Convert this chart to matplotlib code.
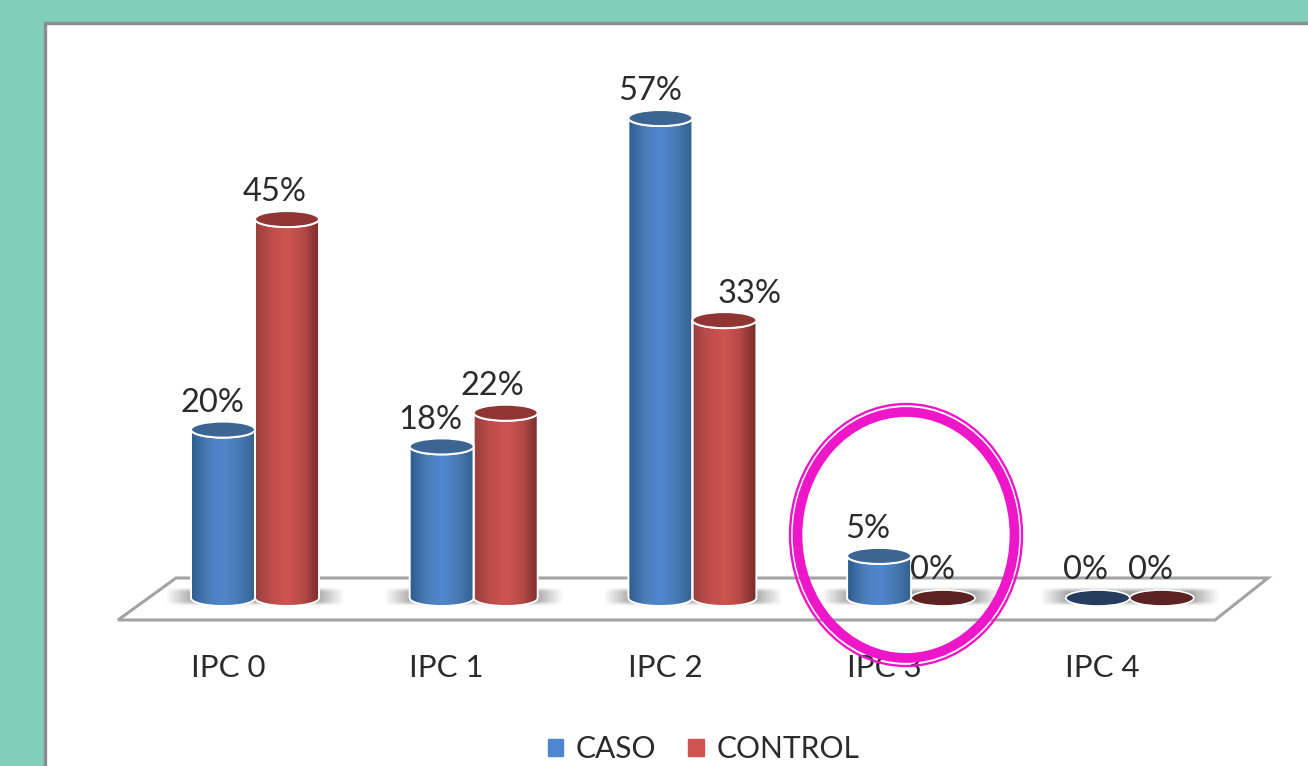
import matplotlib
matplotlib.use('Agg')
import matplotlib.pyplot as plt
import numpy as np
from matplotlib.colors import LinearSegmentedColormap
from matplotlib.patches import Ellipse, Patch, Polygon, Rectangle

plt.rcParams['font.family'] = ['Lato', 'DejaVu Sans']

categories = ['IPC 0', 'IPC 1', 'IPC 2', 'IPC 3', 'IPC 4']
caso = [20, 18, 57, 5, 0]
control = [45, 22, 33, 0, 0]

W, H = 1308, 766
PX_X = 218.7       # px per category
PX_Y = 8.42        # px per percent
X0, Y0 = 255, 598  # px position of first group / of value 0
BAR_W = 64 / PX_X
CAP = 8 / PX_Y     # half height of the ellipses
FS = 22.5

BLUE = LinearSegmentedColormap.from_list('b', ['#2f5b8d', '#4a7cb8', '#5088cf', '#477ab4', '#33608f'])
RED = LinearSegmentedColormap.from_list('r', ['#983f3d', '#bd4d4a', '#cf5451', '#b54a47', '#762c2b'])
TEXT = '#2b2b2b'

fig = plt.figure(figsize=(W / 100, H / 100), dpi=100, facecolor='#80cfb8')

# fondo en pixeles: marco y piso
bg = fig.add_axes([0, 0, 1, 1], zorder=0)
bg.set_xlim(0, W)
bg.set_ylim(H, 0)
bg.axis('off')
bg.add_patch(Rectangle((45, 22.5), W, H, fc='white', ec='#8c8c8c', lw=2.4))
bg.add_patch(Polygon([(176, 578), (1268, 578), (1215, 620), (118, 620)], fc='white', ec='#a3a3a3', lw=2.2))

# ejes de datos
ax = fig.add_axes([0, (H - Y0) / H, 1, Y0 / H], zorder=1)
ax.patch.set_alpha(0)
xlim = (-X0 / PX_X, (W - X0) / PX_X)
ylim = (0, Y0 / PX_Y)
for s in ax.spines.values():
    s.set_visible(False)
ax.set_yticks([])
ax.set_xticks(np.arange(len(categories)) - 27 / PX_X)
ax.set_xticklabels(categories, fontsize=FS, color=TEXT)
ax.tick_params(axis='x', length=0, pad=40)


def shadow(i):
    # sombra difusa sobre el piso
    n = 120
    u = np.linspace(-1, 1, n)
    v = np.linspace(-1, 1, 30)
    a = np.clip((1 - np.abs(u)) * 3.2, 0, 1)[None, :] * np.clip((1 - np.abs(v)) * 2, 0, 1)[:, None]
    img = np.zeros((30, n, 4))
    img[..., :3] = 0.5
    img[..., 3] = a * 0.7
    im = ax.imshow(img, extent=(i - 0.41, i + 0.41, -1.0, 1.2), aspect='auto', zorder=1)
    im.set_clip_on(False)


def cylinder(x, val, cmap, top, flat):
    left, right = x - BAR_W / 2, x + BAR_W / 2
    if val == 0:
        ax.add_patch(Ellipse((x, 0), BAR_W, 2 * CAP, fc=flat, ec='white', lw=1.2, zorder=3, clip_on=False))
        return
    t = np.linspace(np.pi, 2 * np.pi, 60)
    low = np.column_stack([x + BAR_W / 2 * np.cos(t), CAP * np.sin(t)])
    up = np.column_stack([x + BAR_W / 2 * np.cos(t[::-1]), val + CAP * np.sin(t[::-1])])
    body = Polygon(np.vstack([low, up]), fc='none', ec='white', lw=1.4, zorder=3, clip_on=False)
    ax.add_patch(body)
    grad = np.linspace(0, 1, 128)[None, :]
    im = ax.imshow(grad, extent=(left, right, -CAP, val + CAP), cmap=cmap, aspect='auto', zorder=2.5)
    im.set_clip_box(fig.bbox)
    im.set_clip_path(body)
    ax.add_patch(Ellipse((x, val), BAR_W, 2 * CAP, fc=top, ec='white', lw=1.4, zorder=4))


# (dx, dy) de cada etiqueta respecto a la barra, en pixeles
off_caso = [(-11, 27), (-11, 26), (-10, 27), (-11, 27), (-12, 28)]
off_control = [(-12, 27), (-13, 27), (25, 26), (-11, 28), (-11, 28)]

for i in range(len(categories)):
    shadow(i)
    x1 = i - 32 / PX_X
    x2 = i + 32 / PX_X
    cylinder(x1, caso[i], BLUE, '#3c6594', '#253c5d')
    cylinder(x2, control[i], RED, '#8f3533', '#5c2322')
    ax.annotate(f'{caso[i]}%', (x1, caso[i]), xytext=off_caso[i], textcoords='offset pixels',
                ha='center', va='center', fontsize=23.5, color=TEXT, zorder=5, annotation_clip=False)
    ax.annotate(f'{control[i]}%', (x2, control[i]), xytext=off_control[i], textcoords='offset pixels',
                ha='center', va='center', fontsize=23.5, color=TEXT, zorder=5, annotation_clip=False)

ax.set_xlim(*xlim)
ax.set_ylim(*ylim)

handles = [Patch(color=BLUE(0.5), label='CASO'), Patch(color=RED(0.5), label='CONTROL')]
fig.legend(handles=handles, loc='center', bbox_to_anchor=(703.5 / W, 1 - 749 / H), ncol=2, frameon=False,
           fontsize=21.6, labelcolor=TEXT, handlelength=0.52, handleheight=0.52, handletextpad=0.42,
           columnspacing=1.05, borderpad=0)

# circulo magenta encima de todo
top = fig.add_axes([0, 0, 1, 1], zorder=3)
top.set_xlim(0, W)
top.set_ylim(H, 0)
top.axis('off')
top.patch.set_alpha(0)
top.add_patch(Ellipse((906, 535), 232, 262, fc='none', ec='#ee16c9', lw=1.7))
top.add_patch(Ellipse((906, 535), 217, 246, fc='none', ec='#ee16c9', lw=7))

fig.savefig('out.png', dpi=100, facecolor=fig.get_facecolor())
